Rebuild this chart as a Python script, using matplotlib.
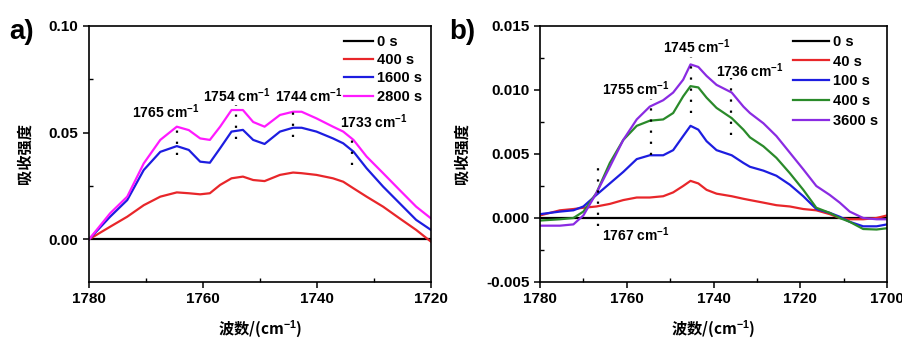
import matplotlib
matplotlib.use("Agg")
import matplotlib.pyplot as plt
from matplotlib.ticker import MultipleLocator, FormatStrFormatter

plt.rcParams['font.family'] = ['Liberation Sans', 'Noto Sans CJK SC', 'DejaVu Sans']
plt.rcParams['font.weight'] = 'bold'
plt.rcParams['axes.labelweight'] = 'bold'
plt.rcParams['mathtext.fontset'] = 'custom'
plt.rcParams['mathtext.rm'] = 'Liberation Sans:bold'
plt.rcParams['mathtext.default'] = 'rm'

# ---- panel a data ----
wn_a = [1780, 1776.3, 1773.3, 1770.4, 1767.5, 1764.6, 1762.5, 1760.5, 1758.8, 1757.0,
        1755.0, 1753.0, 1751.2, 1749.2, 1746.5, 1744.2, 1742.7, 1740.1, 1737.2, 1735.4,
        1733.6, 1731.3, 1728.4, 1725.5, 1722.6, 1720]
a_400 = [0.0, 0.0059, 0.0106, 0.0160, 0.0200, 0.0220, 0.0216, 0.0211, 0.0216, 0.0255,
         0.0286, 0.0294, 0.0278, 0.0273, 0.0302, 0.0313, 0.0310, 0.0302, 0.0286, 0.0270,
         0.0239, 0.0200, 0.0153, 0.0098, 0.0044, -0.0011]
a_1600 = [0.0, 0.0106, 0.0184, 0.0325, 0.0410, 0.0437, 0.0419, 0.0364, 0.0359, 0.0427,
          0.0505, 0.0513, 0.0466, 0.0447, 0.0505, 0.0523, 0.0523, 0.0505, 0.0473, 0.0450,
          0.0411, 0.0333, 0.0247, 0.0169, 0.0091, 0.0044]
a_2800 = [0.0, 0.0122, 0.0200, 0.0356, 0.0466, 0.0528, 0.0512, 0.0473, 0.0466, 0.0528,
          0.0606, 0.0606, 0.0550, 0.0528, 0.0583, 0.0598, 0.0598, 0.0567, 0.0528, 0.0505,
          0.0466, 0.0388, 0.0310, 0.0231, 0.0153, 0.0098]
labels_a = ['0 s', '400 s', '1600 s', '2800 s']
colors_a = ['black', '#e8262a', '#1d1de0', '#ff1aff']
peaks_a = [1764.5, 1754.2, 1744.3, 1733.8]
peak_top_a = [0.055, 0.063, 0.063, 0.0505]
peak_bot_a = [0.0395, 0.047, 0.048, 0.035]
peak_text_a = ['1765', '1754', '1744', '1733']
text_pos_a = [(1772.5, 0.060), (1760.0, 0.0673), (1747.4, 0.0673), (1736.0, 0.0552)]

# ---- panel b data ----
wn_b = [1780, 1775.4, 1772.3, 1770.0, 1767.0, 1763.9, 1760.8, 1757.7, 1754.7, 1751.6,
        1749.3, 1747.0, 1745.3, 1743.5, 1741.6, 1739.3, 1735.8, 1733.1, 1731.6, 1728.5,
        1725.5, 1722.4, 1719.3, 1716.3, 1713.2, 1710.9, 1708.6, 1705.5, 1702.4, 1700]
b_40 = [0.0002, 0.0006, 0.0007, 0.0008, 0.0009, 0.0011, 0.0014, 0.0016, 0.0016, 0.0017,
        0.0020, 0.0025, 0.0029, 0.0027, 0.0022, 0.0019, 0.0017, 0.0015, 0.0014, 0.0012,
        0.0010, 0.0009, 0.0007, 0.0006, 0.0003, 0.0000, -0.0001, -0.0001, 0.0000, 0.0002]
b_100 = [0.0003, 0.0005, 0.0006, 0.0009, 0.0018, 0.0027, 0.0036, 0.0046, 0.0049, 0.0049,
         0.0053, 0.0064, 0.0072, 0.0069, 0.0060, 0.0053, 0.0049, 0.0043, 0.0040, 0.0037,
         0.0033, 0.0026, 0.0017, 0.0007, 0.0004, 0.0001, -0.0003, -0.00065, -0.00065, -0.0005]
b_400 = [-0.0002, -0.0001, 0.0000, 0.0005, 0.00195, 0.0043, 0.0061, 0.0072, 0.0076, 0.0077,
         0.0082, 0.0095, 0.0103, 0.0102, 0.0094, 0.0086, 0.0078, 0.0069, 0.0063, 0.0056,
         0.0047, 0.0035, 0.0022, 0.0008, 0.0004, 0.0000, -0.0003, -0.00086, -0.0009, -0.0008]
b_3600 = [-0.0006, -0.0006, -0.0005, 0.0002, 0.00195, 0.0040, 0.0061, 0.0077, 0.0087, 0.0092,
          0.0098, 0.0108, 0.0120, 0.0118, 0.0111, 0.0104, 0.0098, 0.0087, 0.0082, 0.0074,
          0.0064, 0.0051, 0.0038, 0.0025, 0.0018, 0.0012, 0.0005, 0.0000, -0.0001, -0.0001]
labels_b = ['0 s', '40 s', '100 s', '400 s', '3600 s']
colors_b = ['black', '#e8262a', '#1d1de0', '#2a8a2a', '#8a2be2']
peaks_b = [1766.6, 1754.5, 1745.3, 1736.0]
peak_top_b = [0.0039, 0.0093, 0.0126, 0.0109]
peak_bot_b = [-0.00065, 0.0049, 0.0082, 0.0065]
peak_text_b = ['1767', '1755', '1745', '1736']
text_pos_b = [(1765.6, -0.0013), (1765.6, 0.0101), (1751.6, 0.0134), (1739.5, 0.0115)]

fig = plt.figure(figsize=(9.03, 3.38), dpi=100)
ax_a = fig.add_axes([0.0986, 0.1657, 0.3787, 0.7574])
ax_b = fig.add_axes([0.598, 0.1657, 0.3843, 0.7574])


def style_axes(ax):
    for s in ax.spines.values():
        s.set_linewidth(1.2)
    ax.tick_params(which='major', direction='out', length=4, width=1.1, labelsize=11)
    ax.tick_params(which='minor', direction='in', length=3, width=1.0)
    ax.set_xlabel('波数/(cm$^{-1}$)', fontsize=11,
                  family=['Noto Sans CJK SC', 'Liberation Sans'], labelpad=9)
    ax.set_ylabel('吸收强度', fontsize=11, family=['Noto Sans CJK SC'], labelpad=12)


def draw_peaks(ax, peaks, tops, bots, names, positions):
    for p, t, b in zip(peaks, tops, bots):
        ax.plot([p, p], [b, t], color='black', lw=1.6, linestyle=(0, (1, 4)))
    for n, (x, y) in zip(names, positions):
        ax.text(x, y, n + ' cm$^{-1}$', fontsize=10, ha='left', va='center')


# panel a
ax_a.plot(wn_a, [0] * len(wn_a), color=colors_a[0], lw=1.6, label=labels_a[0])
for ys, c, lab in zip([a_400, a_1600, a_2800], colors_a[1:], labels_a[1:]):
    ax_a.plot(wn_a, ys, color=c, lw=1.6, label=lab)
draw_peaks(ax_a, peaks_a, peak_top_a, peak_bot_a, peak_text_a, text_pos_a)
ax_a.set_xlim(1780, 1720)
ax_a.set_ylim(-0.02, 0.10)
ax_a.xaxis.set_major_locator(MultipleLocator(20))
ax_a.xaxis.set_minor_locator(MultipleLocator(10))
ax_a.yaxis.set_major_locator(MultipleLocator(0.05))
ax_a.yaxis.set_minor_locator(MultipleLocator(0.025))
ax_a.yaxis.set_major_formatter(FormatStrFormatter('%.2f'))
style_axes(ax_a)
ax_a.legend(loc='upper right', frameon=False, fontsize=10.5, handlelength=2.0,
            handletextpad=0.25, labelspacing=0.3, borderaxespad=0.2)

# panel b
ax_b.plot(wn_b, [0] * len(wn_b), color=colors_b[0], lw=1.6, label=labels_b[0])
for ys, c, lab in zip([b_40, b_100, b_400, b_3600], colors_b[1:], labels_b[1:]):
    ax_b.plot(wn_b, ys, color=c, lw=1.6, label=lab)
draw_peaks(ax_b, peaks_b, peak_top_b, peak_bot_b, peak_text_b, text_pos_b)
ax_b.set_xlim(1780, 1700)
ax_b.set_ylim(-0.005, 0.015)
ax_b.xaxis.set_major_locator(MultipleLocator(20))
ax_b.xaxis.set_minor_locator(MultipleLocator(10))
ax_b.yaxis.set_major_locator(MultipleLocator(0.005))
ax_b.yaxis.set_minor_locator(MultipleLocator(0.0025))
ax_b.yaxis.set_major_formatter(FormatStrFormatter('%.3f'))
style_axes(ax_b)
ax_b.legend(loc='upper right', frameon=False, fontsize=10.5, handlelength=2.5,
            handletextpad=0.25, labelspacing=0.4, borderaxespad=0.2)

fig.text(0.01, 0.905, 'a)', fontsize=20, fontweight='bold', va='center')
fig.text(0.497, 0.905, 'b)', fontsize=20, fontweight='bold', va='center')

fig.savefig('out.png', dpi=100)
